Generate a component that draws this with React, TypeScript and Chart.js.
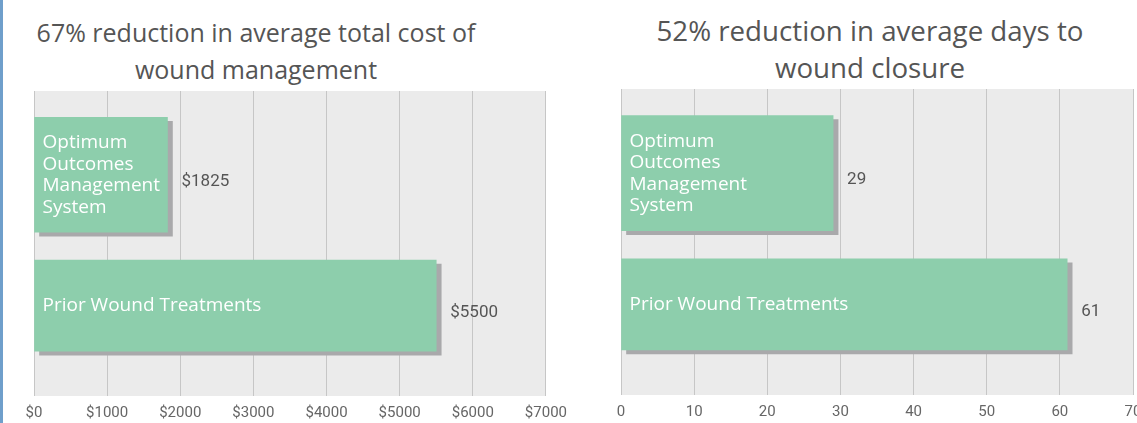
import React, { useEffect, useRef } from "react";
import { Chart, registerables } from "chart.js";

Chart.register(...registerables);

// ---------- data ----------
const costCategories: string[][] = [
  ["Optimum", "Outcomes", "Management", "System"],
  ["Prior Wound Treatments"],
];
const costValues: number[] = [1825, 5500];
const costValueLabels: string[] = ["$1825", "$5500"];
const costTitle: string[] = ["67% reduction in average total cost of", "wound management"];
const costAxisMax = 7000;
const costAxisStep = 1000;
const costTickPrefix = "$";

const daysCategories: string[][] = [
  ["Optimum", "Outcomes", "Management", "System"],
  ["Prior Wound Treatments"],
];
const daysValues: number[] = [29, 61];
const daysValueLabels: string[] = ["29", "61"];
const daysTitle: string[] = ["52% reduction in average days to", "wound closure"];
const daysAxisMax = 70;
const daysAxisStep = 10;
const daysTickPrefix = "";

// ---------- styles ----------
const BAR_COLOR = "#8dceac";
const SHADOW_COLOR = "#a9a9ab";
const PLOT_BG = "#ebebeb";
const GRID_COLOR = "#c6c6c6";
const TEXT_DARK = "#555555";
const barThicknesses = [115, 91];
const CAT_MIN = -0.64;
const CAT_MAX = 1.69;

type PanelProps = {
  categories: string[][];
  values: number[];
  valueLabels: string[];
  axisMax: number;
  axisStep: number;
  tickPrefix: string;
  left: number;
  width: number;
  height: number;
  padding: { left: number; right: number; top: number; bottom: number };
  axisHeight: number;
};

function BarPanel(p: PanelProps) {
  const ref = useRef<HTMLCanvasElement>(null);

  useEffect(() => {
    const canvas = ref.current;
    if (!canvas) return;

    const bgPlugin = {
      id: "plotBg",
      beforeDraw(chart: any) {
        const { ctx, chartArea: a } = chart;
        ctx.save();
        ctx.fillStyle = PLOT_BG;
        ctx.fillRect(a.left, a.top, a.right - a.left, a.bottom - a.top);
        ctx.restore();
      },
    };

    const shadowPlugin = {
      id: "barShadow",
      beforeDatasetsDraw(chart: any) {
        const c = chart.ctx;
        c.save();
        c.shadowColor = SHADOW_COLOR;
        c.shadowOffsetX = 5;
        c.shadowOffsetY = 4;
        c.shadowBlur = 0;
      },
      afterDatasetsDraw(chart: any) {
        chart.ctx.restore();
      },
    };

    const labelPlugin = {
      id: "barText",
      afterDatasetsDraw(chart: any) {
        const ctx = chart.ctx;
        ctx.save();
        p.categories.forEach((lines, i) => {
          const bar: any = chart.getDatasetMeta(i).data[0];
          if (!bar) return;
          const fs = 19;
          const lh = 21.5;
          ctx.font = `${fs}px "Open Sans"`;
          ctx.fillStyle = "#ffffff";
          ctx.textAlign = "left";
          ctx.textBaseline = "alphabetic";
          const capHalf = (fs * 0.714) / 2;
          lines.forEach((line, j) => {
            const y = bar.y + (j - (lines.length - 1) / 2) * lh + capHalf - 1;
            ctx.fillText(line, bar.base + 8, y);
          });
          ctx.font = "17px Roboto";
          ctx.fillStyle = TEXT_DARK;
          ctx.textBaseline = "middle";
          ctx.fillText(p.valueLabels[i], bar.x + 14, bar.y + 7);
        });
        ctx.restore();
      },
    };

    const chart = new Chart(canvas, {
      type: "bar",
      data: {
        datasets: p.values.map((v, i) => ({
          label: p.categories[i].join(" "),
          data: [{ x: v, y: i }],
          backgroundColor: BAR_COLOR,
          borderWidth: 0,
          grouped: false,
          barThickness: barThicknesses[i],
        })) as any,
      },
      options: {
        indexAxis: "y",
        animation: false,
        responsive: false,
        maintainAspectRatio: false,
        layout: { padding: p.padding },
        plugins: {
          legend: { display: false },
          tooltip: { enabled: false },
          title: { display: false },
        },
        scales: {
          x: {
            type: "linear",
            min: 0,
            max: p.axisMax,
            grid: { color: GRID_COLOR, lineWidth: 1, drawTicks: false },
            border: { display: false },
            ticks: {
              stepSize: p.axisStep,
              padding: 8,
              color: "#666666",
              font: { family: "Roboto", size: 15 },
              callback: (v: any) => p.tickPrefix + v,
            },
            afterFit: (s: any) => {
              s.height = p.axisHeight;
            },
          },
          y: {
            type: "linear",
            reverse: true,
            offset: false,
            min: CAT_MIN,
            max: CAT_MAX,
            grid: { offset: false },
            ticks: { stepSize: 1 },
            display: false,
            afterBuildTicks: (s: any) => {
              s.min = CAT_MIN;
              s.max = CAT_MAX;
            },
          },
        },
      } as any,
      plugins: [bgPlugin, shadowPlugin, labelPlugin],
    });

    return () => chart.destroy();
  }, []);

  return (
    <canvas
      ref={ref}
      width={p.width}
      height={p.height}
      style={{ position: "absolute", left: p.left, top: 0, width: p.width, height: p.height }}
    />
  );
}

function Title({ lines, center, size, top }: { lines: string[]; center: number; size: number; top: number }) {
  return (
    <div
      style={{
        position: "absolute",
        left: center - 300,
        top,
        width: 600,
        textAlign: "center",
        fontFamily: '"Open Sans", sans-serif',
        fontSize: size,
        lineHeight: "36.5px",
        color: TEXT_DARK,
        whiteSpace: "nowrap",
      }}
    >
      {lines.map((l, i) => (
        <div key={i}>{l}</div>
      ))}
    </div>
  );
}

export default function App() {
  return (
    <div
      style={{
        position: "fixed",
        left: 0,
        top: 0,
        width: 1137,
        height: 423,
        overflow: "hidden",
        background: "#ffffff",
      }}
    >
      <Title lines={costTitle} center={256} size={25} top={14} />
      <Title lines={daysTitle} center={870} size={27.7} top={12} />
      <BarPanel
        categories={costCategories}
        values={costValues}
        valueLabels={costValueLabels}
        axisMax={costAxisMax}
        axisStep={costAxisStep}
        tickPrefix={costTickPrefix}
        left={0}
        width={575}
        height={423}
        padding={{ left: 34, right: 29, top: 91, bottom: 0 }}
        axisHeight={27}
      />
      <BarPanel
        categories={daysCategories}
        values={daysValues}
        valueLabels={daysValueLabels}
        axisMax={daysAxisMax}
        axisStep={daysAxisStep}
        tickPrefix={daysTickPrefix}
        left={580}
        width={580}
        height={423}
        padding={{ left: 41, right: 27, top: 89, bottom: 0 }}
        axisHeight={28}
      />
      <div style={{ position: "absolute", left: 0, top: 0, width: 3, height: 423, background: "#6f9fcb" }} />
    </div>
  );
}
